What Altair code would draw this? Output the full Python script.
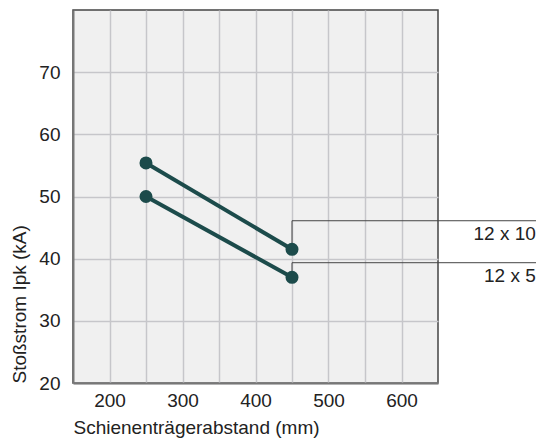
import altair as alt
import pandas as pd

# Data
spacing_mm = [250, 450]
ipk_12x10 = [55.4, 41.5]
ipk_12x5 = [50.0, 37.0]
series_names = ["12 x 10", "12 x 5"]
leader_y = [46.1, 39.35]          # height of the leader lines (kA)
leader_x_end = 800                # where leader lines end (mm scale, outside the plot)
label_x = 784

x_grid = list(range(200, 601, 50))
y_grid = list(range(20, 76, 5))

rows = []
for name, vals in zip(series_names, [ipk_12x10, ipk_12x5]):
    for x, y in zip(spacing_mm, vals):
        rows.append({"series": name, "x": x, "y": y})
df = pd.DataFrame(rows)

ann = pd.DataFrame({
    "series": series_names,
    "x": [spacing_mm[-1]] * 2,
    "y_pt": [ipk_12x10[-1], ipk_12x5[-1]],
    "y_line": leader_y,
    "x_end": [leader_x_end] * 2,
    "x_lab": [label_x] * 2,
})

FONT = "Liberation Sans"
DARK = "#1c4b4b"
FS = 19

xscale = alt.Scale(domain=[150, 650], nice=False, zero=False)
yscale = alt.Scale(domain=[20, 80], nice=False, zero=False)

xaxis = alt.Axis(
    values=x_grid,
    labelExpr="datum.value % 100 == 0 ? datum.label : ''",
    title="Schienenträgerabstand (mm)",
    titleAnchor="start", titleAlign="left",
    ticks=False, labelPadding=8, titlePadding=8,
    labelFlush=False, labelOverlap=False,
)
yaxis = alt.Axis(
    values=y_grid,
    labelExpr="datum.value % 10 == 0 ? datum.label : ''",
    title="Stoßstrom Ipk (kA)",
    titleAnchor="start",
    ticks=False, labelPadding=13, titlePadding=9,
    labelFlush=False, labelOverlap=False,
)

lines = alt.Chart(df).mark_line(color=DARK, strokeWidth=4).encode(
    x=alt.X("x:Q", scale=xscale, axis=xaxis),
    y=alt.Y("y:Q", scale=yscale, axis=yaxis),
    detail="series:N",
)
points = alt.Chart(df).mark_circle(color=DARK, size=170, opacity=1).encode(
    x=alt.X("x:Q", scale=xscale),
    y=alt.Y("y:Q", scale=yscale),
)
vleader = alt.Chart(ann).mark_rule(color="#444", strokeWidth=1).encode(
    x="x:Q", y="y_pt:Q", y2="y_line:Q",
)
hleader = alt.Chart(ann).mark_rule(color="#444", strokeWidth=1).encode(
    x="x:Q", x2="x_end:Q", y="y_line:Q",
)
labels = alt.Chart(ann).mark_text(
    align="right", baseline="middle", dy=13, font=FONT, fontSize=FS, color="#222"
).encode(x="x_lab:Q", y="y_line:Q", text="series:N")

chart = alt.layer(vleader, hleader, lines, points, labels).properties(
    width=365, height=373,
    padding={"left": 65, "top": 2, "right": 98, "bottom": 58},
    autosize=alt.AutoSizeParams(type="none"),
).configure_view(
    fill="#f0f0f0", stroke="#444", strokeWidth=1.5,
).configure_axis(
    gridColor="#c6c6ca", gridWidth=1.5, gridOpacity=1,
    domainColor="#777", domainWidth=2,
    labelFont=FONT, labelFontSize=FS, labelColor="#222",
    titleFont=FONT, titleFontSize=FS, titleColor="#222", titleFontWeight="normal",
)

chart.save("out.html", embed_options={"renderer": "svg", "actions": False})
